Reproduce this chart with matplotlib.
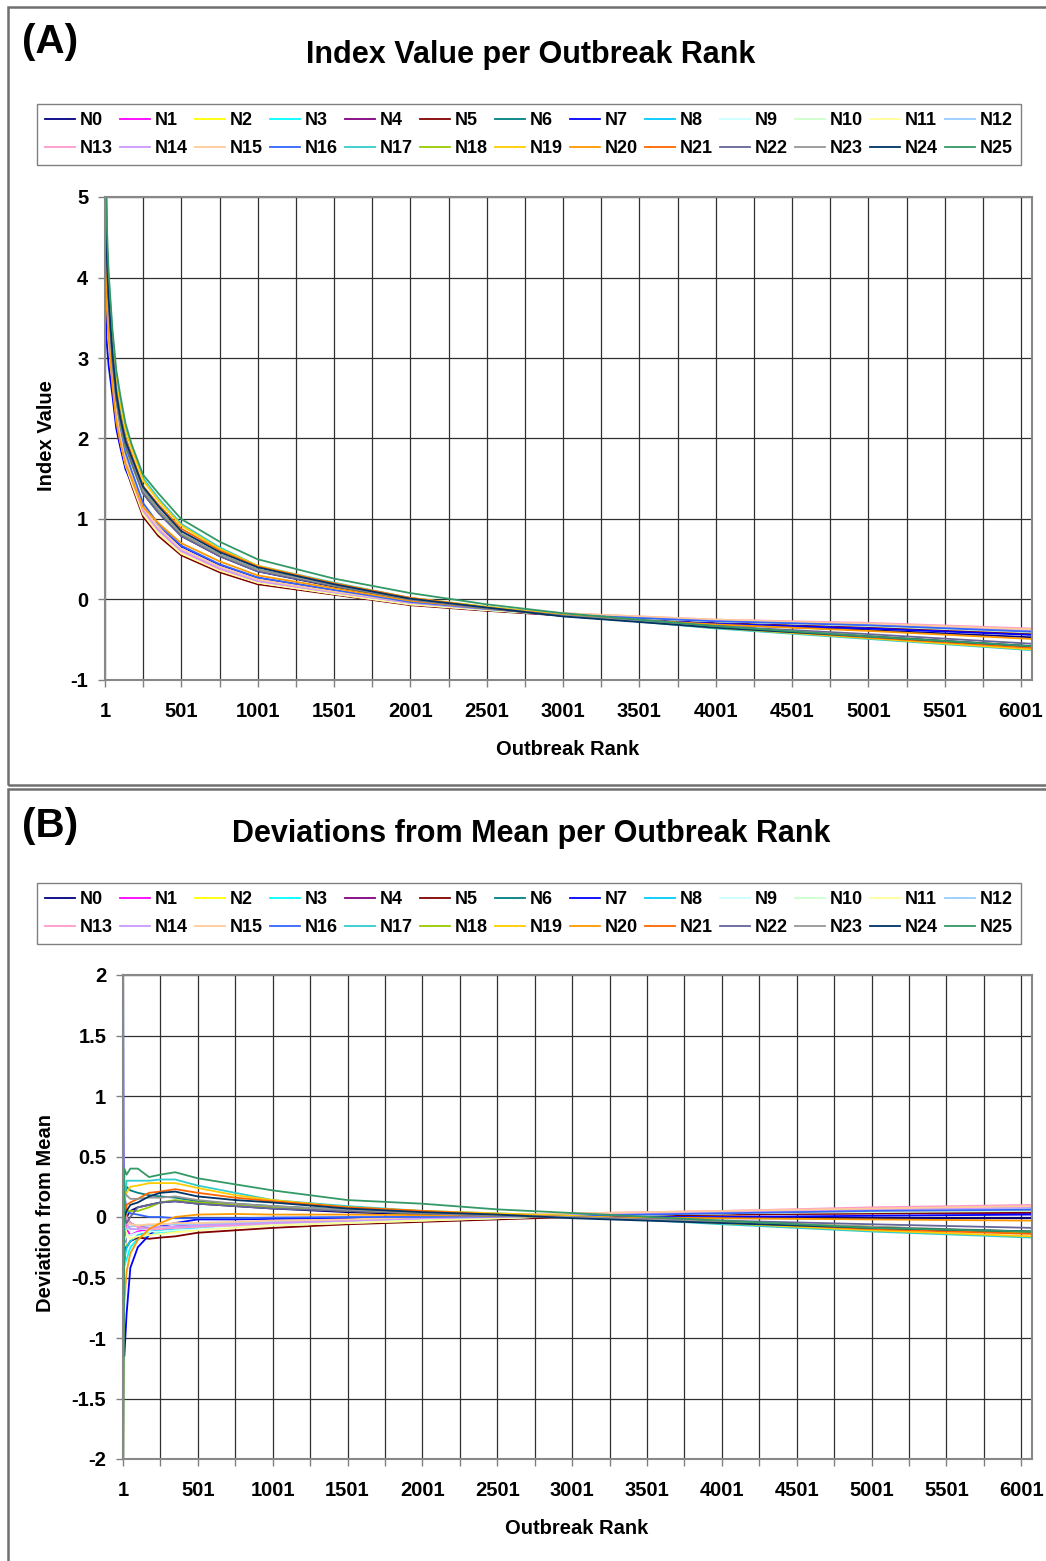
import matplotlib
matplotlib.use('Agg')
import matplotlib.pyplot as plt
from matplotlib.patches import Rectangle
from matplotlib.ticker import FixedLocator, FixedFormatter

plt.rcParams['font.family'] = ['Liberation Sans', 'DejaVu Sans']
plt.rcParams['font.weight'] = 'bold'
plt.rcParams['axes.unicode_minus'] = False

# series names and line colours
names = ['N%d' % i for i in range(26)]
colors = ['#000080', '#FF00FF', '#FFFF00', '#00FFFF', '#800080', '#800000',
          '#008080', '#0000FF', '#00CCFF', '#CCFFFF', '#CCFFCC', '#FFFF99',
          '#99CCFF', '#FF99CC', '#CC99FF', '#FFCC99', '#3366FF', '#33CCCC',
          '#99CC00', '#FFCC00', '#FF9900', '#FF6600', '#666699', '#969696',
          '#003366', '#339966']

# outbreak ranks where each curve is sampled
ranks_a = [1, 10, 25, 50, 75, 100, 135, 175, 250, 350, 500, 750, 1000, 1500,
           2000, 2500, 3000, 4000, 5000, 6073]
ranks_b = [1, 5, 10, 25, 50, 100, 175, 250, 350, 500, 750, 1000, 1500, 2000,
           2500, 3000, 4000, 5000, 6073]

# index value per outbreak rank
index_n0 = [8.4, 4.0, 3.7, 3.0, 2.52, 2.23, 1.91, 1.70, 1.32, 1.08, 0.79, 0.54, 0.35, 0.16, -0.01, -0.11, -0.20, -0.31, -0.38, -0.47]
index_n1 = [8.6, 4.5, 3.6, 2.8, 2.31, 2.03, 1.71, 1.5, 1.11, 0.87, 0.61, 0.39, 0.23, 0.09, -0.04, -0.12, -0.18, -0.26, -0.31, -0.39]
index_n2 = [9.1, 4.2, 3.45, 2.75, 2.27, 1.99, 1.67, 1.46, 1.07, 0.83, 0.58, 0.37, 0.22, 0.08, -0.05, -0.13, -0.19, -0.28, -0.33, -0.41]
index_n3 = [8.5, 4.0, 3.35, 2.7, 2.24, 1.97, 1.66, 1.45, 1.07, 0.84, 0.59, 0.38, 0.22, 0.08, -0.05, -0.13, -0.19, -0.27, -0.32, -0.41]
index_n4 = [7.7, 4.5, 3.7, 2.9, 2.39, 2.07, 1.74, 1.51, 1.11, 0.87, 0.61, 0.39, 0.23, 0.08, -0.05, -0.13, -0.19, -0.28, -0.34, -0.43]
index_n5 = [8.2, 4.1, 3.45, 2.75, 2.27, 1.98, 1.65, 1.42, 1.03, 0.79, 0.55, 0.34, 0.19, 0.06, -0.07, -0.14, -0.20, -0.28, -0.34, -0.42]
index_n6 = [7.2, 4.5, 3.95, 3.17, 2.66, 2.35, 2.01, 1.78, 1.37, 1.11, 0.81, 0.56, 0.37, 0.18, 0.0, -0.11, -0.20, -0.34, -0.46, -0.59]
index_n7 = [7.4, 3.25, 2.9, 2.53, 2.12, 1.9, 1.62, 1.45, 1.12, 0.90, 0.66, 0.43, 0.27, 0.11, -0.03, -0.12, -0.20, -0.30, -0.36, -0.44]
index_n8 = [8.3, 4.05, 3.45, 2.75, 2.28, 2.0, 1.69, 1.48, 1.09, 0.85, 0.59, 0.38, 0.22, 0.08, -0.05, -0.13, -0.19, -0.27, -0.32, -0.40]
index_n9 = [8.0, 4.2, 3.55, 2.8, 2.31, 2.02, 1.70, 1.48, 1.08, 0.84, 0.58, 0.37, 0.21, 0.07, -0.06, -0.13, -0.19, -0.27, -0.32, -0.40]
index_n10 = [7.8, 4.3, 3.6, 2.85, 2.35, 2.05, 1.72, 1.5, 1.11, 0.86, 0.60, 0.38, 0.22, 0.08, -0.05, -0.13, -0.19, -0.27, -0.33, -0.41]
index_n11 = [8.9, 4.4, 3.55, 2.77, 2.28, 1.99, 1.67, 1.45, 1.06, 0.82, 0.57, 0.36, 0.21, 0.07, -0.06, -0.13, -0.19, -0.27, -0.32, -0.40]
index_n12 = [8.4, 4.3, 3.6, 2.87, 2.38, 2.08, 1.75, 1.53, 1.14, 0.89, 0.62, 0.40, 0.24, 0.09, -0.04, -0.12, -0.18, -0.26, -0.31, -0.39]
index_n13 = [9.4, 4.6, 3.7, 2.9, 2.39, 2.07, 1.73, 1.5, 1.1, 0.86, 0.60, 0.38, 0.23, 0.09, -0.04, -0.11, -0.17, -0.25, -0.29, -0.36]
index_n14 = [8.8, 4.5, 3.65, 2.85, 2.35, 2.05, 1.73, 1.51, 1.12, 0.87, 0.61, 0.39, 0.23, 0.09, -0.04, -0.12, -0.18, -0.26, -0.31, -0.38]
index_n15 = [8.2, 4.35, 3.65, 2.89, 2.39, 2.08, 1.76, 1.54, 1.14, 0.90, 0.63, 0.41, 0.25, 0.10, -0.03, -0.11, -0.17, -0.25, -0.30, -0.37]
index_n16 = [10.3, 4.6, 3.75, 2.98, 2.48, 2.17, 1.83, 1.6, 1.2, 0.94, 0.67, 0.44, 0.275, 0.12, -0.03, -0.115, -0.19, -0.27, -0.32, -0.40]
index_n17 = [6.8, 4.5, 4.0, 3.25, 2.75, 2.45, 2.12, 1.9, 1.51, 1.26, 0.94, 0.65, 0.42, 0.21, 0.02, -0.09, -0.19, -0.36, -0.49, -0.63]
index_n18 = [7.5, 4.4, 3.75, 3.0, 2.50, 2.2, 1.89, 1.68, 1.32, 1.09, 0.80, 0.55, 0.36, 0.17, 0.0, -0.11, -0.20, -0.34, -0.45, -0.59]
index_n19 = [8.3, 4.55, 3.9, 3.2, 2.71, 2.41, 2.09, 1.88, 1.48, 1.23, 0.92, 0.63, 0.42, 0.20, 0.02, -0.09, -0.19, -0.35, -0.48, -0.62]
index_n20 = [5.7, 3.7, 3.25, 2.65, 2.21, 1.96, 1.68, 1.5, 1.15, 0.95, 0.70, 0.475, 0.30, 0.14, -0.015, -0.11, -0.20, -0.31, -0.39, -0.49]
index_n21 = [7.6, 4.3, 3.8, 3.07, 2.59, 2.3, 2.0, 1.8, 1.41, 1.18, 0.88, 0.61, 0.41, 0.20, 0.02, -0.10, -0.20, -0.34, -0.47, -0.60]
index_n22 = [7.8, 4.4, 3.65, 2.95, 2.49, 2.23, 1.91, 1.70, 1.32, 1.08, 0.79, 0.54, 0.35, 0.17, 0.0, -0.11, -0.205, -0.33, -0.43, -0.55]
index_n23 = [7.1, 4.6, 3.88, 3.1, 2.60, 2.3, 1.98, 1.76, 1.36, 1.12, 0.82, 0.56, 0.37, 0.18, 0.005, -0.105, -0.20, -0.34, -0.45, -0.58]
index_n24 = [7.4, 4.4, 3.75, 3.05, 2.56, 2.27, 1.97, 1.77, 1.40, 1.16, 0.85, 0.59, 0.40, 0.19, 0.01, -0.10, -0.21, -0.35, -0.46, -0.58]
index_n25 = [5.6, 4.8, 4.05, 3.35, 2.85, 2.55, 2.19, 1.93, 1.55, 1.32, 1.0, 0.72, 0.50, 0.26, 0.08, -0.06, -0.17, -0.33, -0.46, -0.58]

# deviation from mean per outbreak rank
dev_n0 = [0.4, 0.2, -0.4, 0.0, 0.05, 0.08, 0.10, 0.12, 0.13, 0.11, 0.09, 0.07, 0.04, 0.02, 0.01, 0.0, -0.01, -0.01, -0.01]
dev_n1 = [0.6, 0.3, 0.1, -0.1, -0.15, -0.12, -0.10, -0.09, -0.08, -0.07, -0.06, -0.05, -0.03, -0.01, 0.0, 0.02, 0.04, 0.06, 0.07]
dev_n2 = [1.1, 0.2, -0.2, -0.25, -0.2, -0.16, -0.14, -0.13, -0.12, -0.10, -0.08, -0.06, -0.04, -0.02, -0.01, 0.01, 0.02, 0.04, 0.05]
dev_n3 = [0.5, -0.3, -0.4, -0.35, -0.25, -0.18, -0.15, -0.13, -0.11, -0.09, -0.07, -0.06, -0.04, -0.02, -0.01, 0.01, 0.03, 0.05, 0.05]
dev_n4 = [-0.3, 0.4, 0.1, 0.0, -0.05, -0.08, -0.09, -0.09, -0.08, -0.07, -0.06, -0.05, -0.04, -0.02, -0.01, 0.01, 0.02, 0.03, 0.03]
dev_n5 = [0.2, -0.2, -0.3, -0.25, -0.2, -0.17, -0.18, -0.17, -0.16, -0.13, -0.11, -0.09, -0.06, -0.04, -0.02, 0.0, 0.02, 0.03, 0.04]
dev_n6 = [-0.8, -0.5, 0.1, 0.25, 0.22, 0.20, 0.18, 0.17, 0.16, 0.13, 0.11, 0.09, 0.06, 0.03, 0.01, 0.0, -0.04, -0.09, -0.13]
dev_n7 = [-0.6, -1.15, -1.15, -0.8, -0.42, -0.25, -0.15, -0.08, -0.05, -0.02, -0.02, -0.015, -0.01, 0.0, 0.005, 0.0, 0.0, 0.01, 0.02]
dev_n8 = [0.3, -0.5, -0.35, -0.25, -0.2, -0.15, -0.12, -0.11, -0.10, -0.09, -0.07, -0.06, -0.04, -0.02, -0.01, 0.01, 0.03, 0.05, 0.06]
dev_n9 = [0.0, -0.3, -0.2, -0.15, -0.15, -0.13, -0.12, -0.12, -0.11, -0.10, -0.08, -0.07, -0.05, -0.03, -0.01, 0.01, 0.03, 0.05, 0.06]
dev_n10 = [-0.2, 0.1, -0.1, -0.1, -0.1, -0.1, -0.1, -0.09, -0.09, -0.08, -0.07, -0.06, -0.04, -0.02, -0.01, 0.01, 0.03, 0.04, 0.05]
dev_n11 = [0.9, 0.3, 0.0, -0.15, -0.18, -0.16, -0.15, -0.14, -0.13, -0.11, -0.09, -0.07, -0.05, -0.03, -0.01, 0.01, 0.03, 0.05, 0.06]
dev_n12 = [0.4, 0.0, -0.1, -0.1, -0.08, -0.07, -0.07, -0.06, -0.06, -0.06, -0.05, -0.04, -0.03, -0.01, 0.0, 0.02, 0.04, 0.06, 0.07]
dev_n13 = [1.38, 0.6, 0.2, 0.0, -0.05, -0.08, -0.10, -0.10, -0.09, -0.08, -0.07, -0.05, -0.03, -0.01, 0.01, 0.03, 0.05, 0.08, 0.10]
dev_n14 = [0.8, 0.4, 0.1, -0.05, -0.1, -0.1, -0.09, -0.08, -0.08, -0.07, -0.06, -0.05, -0.03, -0.01, 0.0, 0.02, 0.04, 0.06, 0.08]
dev_n15 = [0.2, 0.0, -0.05, -0.05, -0.06, -0.07, -0.06, -0.06, -0.05, -0.05, -0.04, -0.03, -0.02, 0.0, 0.01, 0.03, 0.05, 0.07, 0.09]
dev_n16 = [2.3, 0.5, 0.2, 0.05, 0.03, 0.02, 0.0, 0.0, -0.01, -0.01, -0.01, -0.005, 0.0, 0.0, 0.005, 0.01, 0.03, 0.05, 0.06]
dev_n17 = [-1.2, -0.4, 0.1, 0.3, 0.3, 0.30, 0.30, 0.31, 0.31, 0.26, 0.20, 0.14, 0.09, 0.05, 0.03, 0.01, -0.06, -0.12, -0.17]
dev_n18 = [-0.5, -0.2, 0.0, 0.05, 0.05, 0.05, 0.08, 0.12, 0.14, 0.12, 0.10, 0.08, 0.05, 0.03, 0.01, 0.0, -0.04, -0.08, -0.13]
dev_n19 = [0.3, 0.0, 0.15, 0.2, 0.25, 0.26, 0.28, 0.28, 0.28, 0.24, 0.18, 0.14, 0.08, 0.05, 0.03, 0.01, -0.05, -0.11, -0.16]
dev_n20 = [-2.3, -1.0, -0.7, -0.45, -0.3, -0.19, -0.1, -0.05, 0.0, 0.02, 0.025, 0.02, 0.02, 0.015, 0.01, 0.0, -0.01, -0.02, -0.03]
dev_n21 = [-0.4, -0.6, -0.1, 0.1, 0.12, 0.15, 0.20, 0.21, 0.23, 0.20, 0.16, 0.13, 0.08, 0.05, 0.02, 0.0, -0.04, -0.10, -0.14]
dev_n22 = [-0.2, 0.2, 0.0, -0.05, 0.0, 0.08, 0.10, 0.12, 0.13, 0.11, 0.09, 0.07, 0.05, 0.03, 0.01, -0.005, -0.03, -0.06, -0.09]
dev_n23 = [-0.9, -0.9, 0.2, 0.18, 0.15, 0.15, 0.16, 0.16, 0.17, 0.14, 0.11, 0.09, 0.06, 0.035, 0.015, 0.0, -0.04, -0.08, -0.12]
dev_n24 = [-0.6, 0.3, 0.0, 0.05, 0.1, 0.12, 0.17, 0.20, 0.21, 0.17, 0.14, 0.12, 0.07, 0.04, 0.02, -0.01, -0.05, -0.09, -0.12]
dev_n25 = [-2.4, -1.5, 0.4, 0.35, 0.40, 0.40, 0.33, 0.35, 0.37, 0.32, 0.27, 0.22, 0.14, 0.11, 0.063, 0.033, -0.03, -0.09, -0.12]

index_values = [index_n0, index_n1, index_n2, index_n3, index_n4, index_n5,
                index_n6, index_n7, index_n8, index_n9, index_n10, index_n11,
                index_n12, index_n13, index_n14, index_n15, index_n16,
                index_n17, index_n18, index_n19, index_n20, index_n21,
                index_n22, index_n23, index_n24, index_n25]
dev_values = [dev_n0, dev_n1, dev_n2, dev_n3, dev_n4, dev_n5, dev_n6, dev_n7,
              dev_n8, dev_n9, dev_n10, dev_n11, dev_n12, dev_n13, dev_n14,
              dev_n15, dev_n16, dev_n17, dev_n18, dev_n19, dev_n20, dev_n21,
              dev_n22, dev_n23, dev_n24, dev_n25]

x_ticks = list(range(1, 6002, 250))
x_labels = [str(t) if (t - 1) % 500 == 0 else '' for t in x_ticks]

W, H = 1046, 1561
fig = plt.figure(figsize=(W / 100, H / 100), dpi=100)


def box(px_left, px_top, px_right, px_bottom):
    return [px_left / W, 1 - px_bottom / H, (px_right - px_left) / W,
            (px_bottom - px_top) / H]


def draw_panel(ax, ranks, values, ylim, yticks, ylabels):
    for i, vals in enumerate(values):
        ax.plot(ranks, vals, color=colors[i], lw=1.3, label=names[i])
    ax.set_xlim(1, 6073)
    ax.set_ylim(*ylim)
    ax.xaxis.set_major_locator(FixedLocator(x_ticks))
    ax.xaxis.set_major_formatter(FixedFormatter(x_labels))
    ax.set_yticks(yticks)
    ax.set_yticklabels(ylabels)
    ax.grid(True, color='#303030', lw=0.9)
    ax.set_axisbelow(True)
    ax.tick_params(axis='x', direction='out', length=5, width=1,
                   color='#808080', pad=11, labelsize=14.5)
    ax.tick_params(axis='y', direction='out', length=5, width=1,
                   color='#808080', pad=7, labelsize=14.5)
    for s in ax.spines.values():
        s.set_color('#888888')
        s.set_linewidth(1.5)
    for lab in ax.get_xticklabels() + ax.get_yticklabels():
        lab.set_fontweight('bold')


def add_legend(ax, top):
    h, l = ax.get_legend_handles_labels()
    order = [c + 13 * r for c in range(13) for r in range(2)]
    fig.legend([h[k] for k in order], [l[k] for k in order], ncol=13,
               loc='upper left', mode='expand',
               bbox_to_anchor=(37 / W, 1 - top / H, 984 / W, 0.0),
               bbox_transform=fig.transFigure, borderaxespad=0,
               prop={'weight': 'bold', 'size': 13}, handlelength=1.65,
               handletextpad=0.28, labelspacing=0.6, borderpad=0.45,
               columnspacing=0.4, fancybox=False, framealpha=1,
               edgecolor='#808080')


# panel frames
fig.add_artist(Rectangle((8 / W, 1 - 785 / H), 1.2, 778 / H,
                         transform=fig.transFigure, fill=False,
                         ec='#707070', lw=1.8))
fig.add_artist(Rectangle((8 / W, -0.1), 1.2, 0.1 + 1 - 789 / H,
                         transform=fig.transFigure, fill=False,
                         ec='#707070', lw=1.8))

# (A) index value
ax1 = fig.add_axes(box(105, 197, 1032, 680))
draw_panel(ax1, ranks_a, index_values, (-1, 5), range(-1, 6),
           [str(v) for v in range(-1, 6)])
add_legend(ax1, 104)
fig.text(22 / W, 1 - 42 / H, '(A)', fontsize=29, fontweight='bold',
         va='center', ha='left')
fig.text(531 / W, 1 - 55 / H, 'Index Value per Outbreak Rank', fontsize=22,
         fontweight='bold', va='center', ha='center')
fig.text(46 / W, 1 - 436 / H, 'Index Value', fontsize=14.5, fontweight='bold',
         rotation=90, va='center', ha='center')
fig.text(568 / W, 1 - 749 / H, 'Outbreak Rank', fontsize=14.5,
         fontweight='bold', va='center', ha='center')

# (B) deviation from mean
b_ticks = [-2, -1.5, -1, -0.5, 0, 0.5, 1, 1.5, 2]
ax2 = fig.add_axes(box(123, 975, 1032, 1459))
draw_panel(ax2, ranks_b, dev_values, (-2, 2), b_ticks,
           ['-2', '-1.5', '-1', '-0.5', '0', '0.5', '1', '1.5', '2'])
add_legend(ax2, 883)
fig.text(22 / W, 1 - 826 / H, '(B)', fontsize=29, fontweight='bold',
         va='center', ha='left')
fig.text(531 / W, 1 - 834 / H, 'Deviations from Mean per Outbreak Rank',
         fontsize=22, fontweight='bold', va='center', ha='center')
fig.text(46 / W, 1 - 1213 / H, 'Deviation from Mean', fontsize=14.5,
         fontweight='bold', rotation=90, va='center', ha='center')
fig.text(577 / W, 1 - 1528 / H, 'Outbreak Rank', fontsize=14.5,
         fontweight='bold', va='center', ha='center')

fig.savefig('out.png', dpi=100)
